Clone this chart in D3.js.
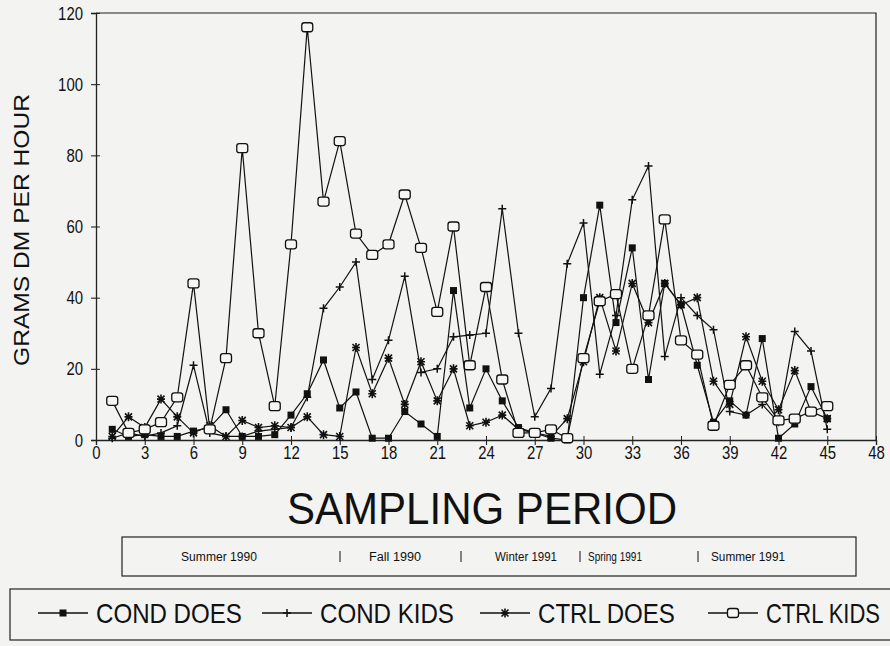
<!DOCTYPE html>
<html lang="en">
  <head>
    <meta charset="UTF-8" />
    <title>Grams DM per hour</title>
    <style>
      body { margin: 0; background: #f3f3f1; }
      svg { display: block; }
      text { font-family: "Liberation Sans Narrow", "Liberation Sans", Arial, sans-serif; fill: #111; }
    </style>
  </head>
  <body>
    <svg width="890" height="646"></svg>

    <script src="https://d3js.org/d3.v7.min.js"></script>
    <script>
      (function () {
        "use strict";

        // data, sampling periods 1..45
        var periods = d3.range(1, 46);
        var condDoes = [3, 1, 1.5, 1, 1, 2.5, 3.5, 8.5, 1, 1, 1.5, 7, 13, 22.5, 9, 13.5, 0.5, 0.5, 8, 4.5,
          1, 42, 9, 20, 11, 3.5, 2, 0.5, 0, 40, 66, 33, 54, 17, 44, 38, 21, 5, 11, 7, 28.5, 0.5, 4.5, 15, 6];
        var condKids = [0.5, 2, 1, 2, 4, 21, 2, 1, 1, 2.5, 3, 3.5, 12, 37, 43, 50, 17, 28, 46, 19,
          20, 29, 29.5, 30, 65, 30, 6.5, 14.5, 49.5, 61, 18.5, 35, 67.5, 77, 23.5, 40, 35, 31, 8, 7, 10, 5, 30.5, 25, 3];
        var ctrlDoes = [1, 6.5, 3.5, 11.5, 6.5, 2, 4, 1, 5.5, 3.5, 4, 3.5, 6.5, 1.5, 1, 26, 13, 23, 10, 22,
          11, 20, 4, 5, 7, 3, 2, 1, 6, 22, 40, 25, 44, 33, 44, 38, 40, 16.5, 10, 29, 16.5, 8.5, 19.5, 8, 6];
        var ctrlKids = [11, 2, 3, 5, 12, 44, 3, 23, 82, 30, 9.5, 55, 116, 67, 84, 58, 52, 55, 69, 54,
          36, 60, 21, 43, 17, 2, 2, 3, 0.5, 23, 39, 41, 20, 35, 62, 28, 24, 4, 15.5, 21, 12, 5.5, 6, 8, 9.5];

        var seriesNames = ["COND DOES", "COND KIDS", "CTRL DOES", "CTRL KIDS"];
        var seriesKinds = ["filled", "plus", "star", "open"];
        var xTicks = d3.range(0, 49, 3);
        var yTicks = [0, 20, 40, 60, 80, 100, 120];
        var seasons = ["Summer 1990", "Fall 1990", "Winter 1991", "Spring 1991", "Summer 1991"];

        var svg = d3.select("svg");

        var x = d3.scaleLinear().domain([0, 48]).range([96, 876]);
        var y = d3.scaleLinear().domain([0, 120]).range([440, 13]);

        // squeeze a text horizontally to a target width (scan font is a narrow face)
        function squeeze(sel, w) {
          sel.each(function () {
            var n = this.getComputedTextLength();
            var ax = +d3.select(this).attr("x") || 0;
            var k = w / n;
            d3.select(this).attr("transform", "translate(" + ax + ",0) scale(" + k + ",1) translate(" + (-ax) + ",0)");
          });
        }

        // frame
        svg.append("path")
          .attr("d", "M" + x(0) + "," + y(120) + "H" + x(48) + "V" + y(0))
          .attr("fill", "none").attr("stroke", "#222").attr("stroke-width", 1.2);

        // axes
        var gx = svg.append("g").attr("transform", "translate(0," + y(0) + ")")
          .call(d3.axisBottom(x).tickValues(xTicks).tickSize(5).tickPadding(1));
        var gy = svg.append("g").attr("transform", "translate(" + x(0) + ",0)")
          .call(d3.axisLeft(y).tickValues(yTicks).tickSize(5).tickPadding(8));
        [gx, gy].forEach(function (g) {
          g.select(".domain").attr("stroke", "#222").attr("stroke-width", 1.3);
          g.selectAll(".tick line").attr("stroke", "#222").attr("stroke-width", 1.1);
          g.selectAll(".tick text").style("font-size", "19px").attr("fill", "#111")
            .attr("lengthAdjust", "spacingAndGlyphs")
            .attr("textLength", function (d) { return String(d).length * 8.3; });
        });
        // small inner tick marks
        gx.selectAll(".tick").append("line").attr("y2", -4).attr("stroke", "#222");
        gy.selectAll(".tick").append("line").attr("x2", 4).attr("stroke", "#222");

        // axis titles
        svg.append("text")
          .attr("transform", "translate(29,230) rotate(-90)")
          .attr("text-anchor", "middle")
          .attr("textLength", 272).attr("lengthAdjust", "spacingAndGlyphs")
          .style("font-size", "22px")
          .text("GRAMS DM PER HOUR");

        svg.append("text")
          .attr("x", 482).attr("y", 524)
          .attr("text-anchor", "middle")
          .attr("textLength", 390).attr("lengthAdjust", "spacingAndGlyphs")
          .style("font-size", "44px")
          .text("SAMPLING PERIOD");

        // season box
        svg.append("rect").attr("x", 122).attr("y", 537).attr("width", 734).attr("height", 39)
          .attr("fill", "none").attr("stroke", "#222").attr("stroke-width", 1.2);
        var seasonX = [219, 395, 526, 615, 748];
        var seasonW = [76, 52, 62, 54, 74];
        var sepX = [340, 461, 580, 698];
        svg.selectAll(".season").data(seasons).enter().append("text")
          .attr("class", "season")
          .attr("x", function (d, i) { return seasonX[i]; })
          .attr("y", 561).attr("text-anchor", "middle")
          .attr("textLength", function (d, i) { return seasonW[i]; })
          .attr("lengthAdjust", "spacingAndGlyphs")
          .style("font-size", "12px")
          .text(function (d) { return d; });
        svg.selectAll(".sep").data(sepX).enter().append("line")
          .attr("class", "sep")
          .attr("x1", function (d) { return d; }).attr("x2", function (d) { return d; })
          .attr("y1", 551).attr("y2", 562)
          .attr("stroke", "#111").attr("stroke-width", 1);

        // markers
        function marker(g, kind) {
          if (kind === "filled") {
            g.append("rect").attr("x", -3.5).attr("y", -3.5).attr("width", 7).attr("height", 7)
              .attr("fill", "#111");
          } else if (kind === "plus") {
            g.append("path").attr("d", "M-4,0H4M0,-4V4").attr("stroke", "#111").attr("stroke-width", 1.5);
          } else if (kind === "star") {
            g.append("path").attr("d", "M-4,0H4M0,-4.5V4.5M-3.5,-3.5L3.5,3.5M-3.5,3.5L3.5,-3.5")
              .attr("stroke", "#111").attr("stroke-width", 1.6);
          } else {
            g.append("rect").attr("x", -5.5).attr("y", -4.5).attr("width", 11).attr("height", 9)
              .attr("rx", 2.5).attr("fill", "#f6f6f4").attr("stroke", "#111").attr("stroke-width", 1.3);
          }
        }

        var allSeries = [condDoes, condKids, ctrlDoes, ctrlKids];
        var line = d3.line()
          .x(function (d, i) { return x(periods[i]); })
          .y(function (d) { return y(d); });

        allSeries.forEach(function (vals) {
          svg.append("path").datum(vals).attr("d", line)
            .attr("fill", "none").attr("stroke", "#111").attr("stroke-width", 1.2);
        });
        // markers after lines, open squares last
        allSeries.forEach(function (vals, k) {
          svg.append("g").selectAll("g").data(vals).enter().append("g")
            .attr("transform", function (d, i) { return "translate(" + x(periods[i]) + "," + y(d) + ")"; })
            .each(function () { marker(d3.select(this), seriesKinds[k]); });
        });

        // legend
        svg.append("rect").attr("x", 10).attr("y", 589).attr("width", 900).attr("height", 51)
          .attr("fill", "none").attr("stroke", "#222").attr("stroke-width", 1.2);
        var legX = [38, 262, 480, 708];
        var legTextW = [146, 134, 137, 114];
        seriesNames.forEach(function (name, k) {
          var g = svg.append("g").attr("transform", "translate(" + legX[k] + ",613)");
          g.append("line").attr("x1", 0).attr("x2", 50).attr("stroke", "#111").attr("stroke-width", 1.3);
          var m = g.append("g").attr("transform", "translate(25,0)");
          marker(m, seriesKinds[k]);
          var t = g.append("text").attr("x", 58).attr("y", 10)
            .style("font-size", "27px")
            .text(name);
          squeeze(t, legTextW[k]);
        });
      })();
    </script>
  </body>
</html>
